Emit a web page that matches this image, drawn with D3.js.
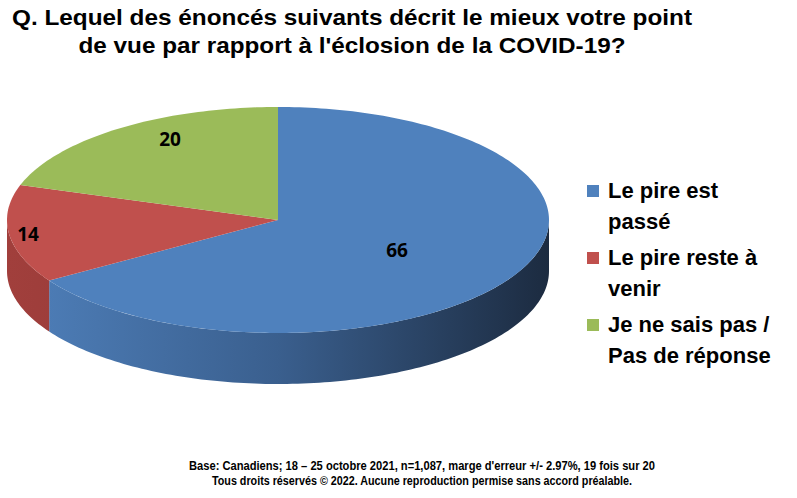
<!DOCTYPE html>
<html><head><meta charset="utf-8">
<script src="https://cdn.jsdelivr.net/npm/d3@7"></script>
<style>body{margin:0;background:#fff}</style>
</head><body>
<svg id="c" width="797" height="498"></svg>
<script>
const categories = ["Le pire est passé", "Le pire reste à venir", "Je ne sais pas / Pas de réponse"];
const values = [66, 14, 20];
const legendLines = [["Le pire est", "passé"], ["Le pire reste à", "venir"], ["Je ne sais pas /", "Pas de réponse"]];
const colors = ["#4F81BD", "#C0504D", "#9BBB59"];
const titleLines = ["Q. Lequel des énoncés suivants décrit le mieux votre point", "de vue par rapport à l'éclosion de la COVID-19?"];
const footLines = ["Base: Canadiens; 18 – 25 octobre 2021, n=1,087, marge d'erreur +/- 2.97%, 19 fois sur 20", "Tous droits réservés © 2022. Aucune reproduction permise sans accord préalable."];

const svg = d3.select("#c");
const cx = 278, cy = 220, rx = 271, ry = 113, depth = 51;
const pt = (a, dy=0) => [cx + rx*Math.sin(a), cy - ry*Math.cos(a) + dy];
const arcPts = (a0, a1, dy=0) => { const n = Math.max(2, Math.ceil((a1-a0)/0.02)); return d3.range(n+1).map(i => pt(a0 + (a1-a0)*i/n, dy)); };
const pie = d3.pie().sort(null).value(d => d)(values);

const defs = svg.append("defs");
const sideStops = [["#4f80bb","#1c2b40"],["#a13f3c","#7a2d2b"],["#88a54c","#5d7433"]];
sideStops.forEach((s,i)=>{
  const g = defs.append("linearGradient").attr("id","g"+i).attr("gradientUnits","userSpaceOnUse")
    .attr("x1", cx-rx).attr("x2", cx+rx).attr("y1",0).attr("y2",0);
  if(i===0){ g.append("stop").attr("offset","0").attr("stop-color","#4f80bb");
    g.append("stop").attr("offset","0.5").attr("stop-color","#3a5f8e");
    g.append("stop").attr("offset","1").attr("stop-color","#1c2b40"); }
  else { g.append("stop").attr("offset","0").attr("stop-color",s[0]); g.append("stop").attr("offset","1").attr("stop-color",s[1]); }
});

pie.forEach((p,i)=>{
  const a0 = Math.max(p.startAngle, Math.PI/2), a1 = Math.min(p.endAngle, 3*Math.PI/2);
  if (a1 <= a0) return;
  const top = arcPts(a0,a1), bot = arcPts(a0,a1,depth).reverse();
  svg.append("path").attr("d", d3.line()(top.concat(bot)) + "Z").attr("fill","url(#g"+i+")");
});
pie.forEach((p,i)=>{
  svg.append("path").attr("d", d3.line()([[cx,cy]].concat(arcPts(p.startAngle,p.endAngle))) + "Z").attr("fill", colors[i]);
});
const labelPos = [[397,252],[28,236],[170,141]];
pie.forEach((p,i)=>{
  svg.append("text").attr("x",labelPos[i][0]).attr("y",labelPos[i][1]).attr("text-anchor","middle").attr("dominant-baseline","middle")
   .attr("font-family","Open Sans, sans-serif").attr("font-weight","bold").attr("font-size",19).attr("fill","#000").text(p.data);
});
titleLines.forEach((t,i)=> svg.append("text").attr("x",352).attr("y",25+i*28).attr("text-anchor","middle")
  .attr("font-family","Liberation Sans, Arial, sans-serif").attr("font-weight","bold").attr("font-size",22)
  .attr("textLength", i===0?680:547).attr("lengthAdjust","spacingAndGlyphs").text(t));
categories.forEach((c,i)=>{
  const y0 = 192 + i*67;
  svg.append("rect").attr("x",587).attr("y",y0-7).attr("width",12).attr("height",12).attr("fill",colors[i]);
  legendLines[i].forEach((l,j)=> svg.append("text").attr("x",608).attr("y",y0+j*31).attr("dominant-baseline","middle")
    .attr("font-family","Liberation Sans, Arial, sans-serif").attr("font-weight","bold").attr("font-size",22).text(l));
});
footLines.forEach((t,i)=> svg.append("text").attr("x",422).attr("y",470+i*15).attr("text-anchor","middle")
  .attr("font-family","Liberation Sans, Arial, sans-serif").attr("font-weight","bold").attr("font-size",12)
  .attr("textLength", i===0?466:420).attr("lengthAdjust","spacingAndGlyphs").text(t));
</script>
</body></html>
